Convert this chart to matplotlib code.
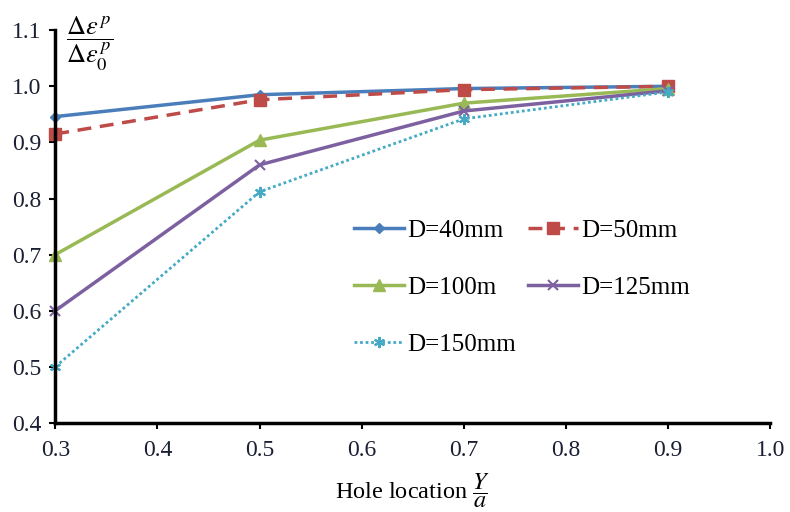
import matplotlib
matplotlib.use("Agg")
import matplotlib.pyplot as plt

plt.rcParams['font.family'] = ['Liberation Serif', 'DejaVu Serif']
plt.rcParams['mathtext.fontset'] = 'stix'

x = [0.3, 0.5, 0.7, 0.9]
d40 = [0.946, 0.985, 0.996, 1.000]
d50 = [0.915, 0.976, 0.994, 1.000]
d100 = [0.700, 0.904, 0.970, 0.996]
d125 = [0.600, 0.860, 0.956, 0.992]
d150 = [0.500, 0.812, 0.942, 0.990]
labels = ['D=40mm', 'D=50mm', 'D=100m', 'D=125mm', 'D=150mm']

fig = plt.figure(figsize=(7.9, 5.12), dpi=100)
ax = fig.add_axes([0.07, 0.174, 0.905, 0.767])

h40, = ax.plot(x, d40, color='#4A7EBB', lw=2.5, marker='D', ms=5, label=labels[0], clip_on=False)
h50, = ax.plot(x, d50, color='#BE4B48', lw=2.5, ls=(0, (4, 2.5)), marker='s', ms=8, label=labels[1], clip_on=False)
h100, = ax.plot(x, d100, color='#98B954', lw=2.5, marker='^', ms=8, label=labels[2], clip_on=False)
h125, = ax.plot(x, d125, color='#7D60A0', lw=2.5, marker='x', ms=7, mew=1.5, label=labels[3], clip_on=False)
h150, = ax.plot(x, d150, color='#46AAC5', lw=2, ls=(0, (1, 1)), marker=(6, 2, 0), ms=8, mew=1.5, label=labels[4], clip_on=False)

ax.set_xlim(0.3, 1.0)
ax.set_ylim(0.4, 1.1)
ax.set_xticks([0.3, 0.4, 0.5, 0.6, 0.7, 0.8, 0.9, 1.0])
ax.set_yticks([0.4, 0.5, 0.6, 0.7, 0.8, 0.9, 1.0, 1.1])
ax.xaxis.set_major_formatter(matplotlib.ticker.FormatStrFormatter('%.1f'))
ax.yaxis.set_major_formatter(matplotlib.ticker.FormatStrFormatter('%.1f'))
for s in ['top', 'right']:
    ax.spines[s].set_visible(False)
for s in ['left', 'bottom']:
    ax.spines[s].set_linewidth(2.5)
    ax.spines[s].set_color('black')
ax.tick_params(axis='both', labelsize=17, width=1.5, length=4, direction='out',
               labelcolor='#1b1f33')
ax.tick_params(axis='y', pad=6)
ax.tick_params(axis='x', pad=8)

ax.set_xlabel(r'Hole location $\dfrac{Y}{a}$', fontsize=17.5, labelpad=8)
ax.text(0.015, 1.04, r'$\dfrac{\Delta\varepsilon^{\,p}}{\Delta\varepsilon_0^{\,p}}$',
        transform=ax.transAxes, fontsize=19, ha='left', va='top')

leg = ax.legend([h40, h100, h150, h50, h125],
                [labels[0], labels[2], labels[4], labels[1], labels[3]],
                ncol=2, frameon=False, fontsize=18, handlelength=2.0,
                handletextpad=0.1, labelspacing=1.38, columnspacing=0.5,
                loc='upper left', bbox_to_anchor=(0.387, 0.575))

fig.savefig('out.png', dpi=100)
